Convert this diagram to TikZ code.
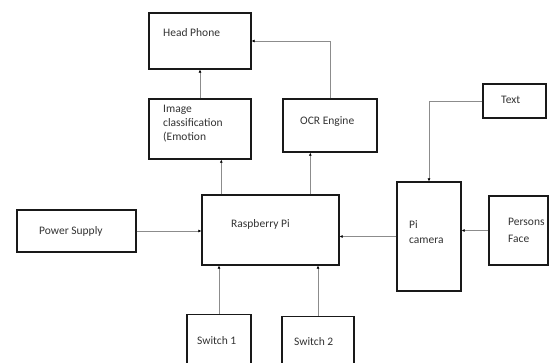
\documentclass[tikz,border=0pt]{standalone}
\usepackage{fontspec}
\setmainfont{Carlito}
\usetikzlibrary{arrows.meta}
\begin{document}
\begin{tikzpicture}[x=1pt,y=-1pt,
  box/.style={draw=black!90,line width=1.4pt,rectangle,inner sep=0pt,fill=white},
  lbl/.style={anchor=base west,inner sep=0pt,text=black!80,font=\fontsize{11.5}{14}\selectfont},
  conn/.style={draw=black!45,line width=0.6pt,-{Latex[length=3pt,width=3pt,fill=black,color=black]}},
  plain/.style={draw=black!45,line width=0.6pt}]
\clip (0,0) rectangle (553,362);
\fill[white] (0,0) rectangle (553,362);
% boxes
\node[box,minimum width=102,minimum height=56] (hp) at (200,41) {};
\node[box,minimum width=102,minimum height=60] (img) at (200,129) {};
\node[box,minimum width=94,minimum height=53] (ocr) at (330,125.5) {};
\node[box,minimum width=137,minimum height=70] (rpi) at (270.5,230) {};
\node[box,minimum width=119,minimum height=42] (ps) at (76.5,231) {};
\node[box,minimum width=64,minimum height=109] (cam) at (429,236.5) {};
\node[box,minimum width=59,minimum height=69] (face) at (518.5,230.5) {};
\node[box,minimum width=63,minimum height=34] (txt) at (514.5,101) {};
\node[box,minimum width=64,minimum height=80,anchor=north] (sw1) at (219,314) {};
\node[box,minimum width=72,minimum height=80,anchor=north] (sw2) at (318,316) {};
% labels
\node[lbl] (hpl) at (163,36) {Head Phone};
\node[lbl] (imgl1) at (163,112) {Image};
\node[lbl] (imgl2) at (163,126) {classification};
\node[lbl] (imgl3) at (163,140) {(Emotion};
\node[lbl] (ocrl) at (300,124) {OCR Engine};
\node[lbl] (rpil) at (231,227) {Raspberry Pi};
\node[lbl] (psl) at (39,234) {Power Supply};
\node[lbl] (caml1) at (409,228) {Pi};
\node[lbl] (caml2) at (409,243) {camera};
\node[lbl] (facel1) at (508,225) {Persons};
\node[lbl] (facel2) at (508,242) {Face};
\node[lbl] (txtl) at (501,103) {Text};
\node[lbl] (sw1l) at (197,344) {Switch 1};
\node[lbl] (sw2l) at (294,345) {Switch 2};
% connectors
\draw[conn] (img.north) -- (hp.south);
\draw[conn] (ocr.north) |- (hp.east);
\draw[conn] ([xshift=20pt]rpi.north west) -- ([xshift=20pt]rpi.north west |- img.south);
\draw[conn] ([xshift=109pt]rpi.north west) -- ([xshift=109pt]rpi.north west |- ocr.south);
\draw[conn] (ps.east) -- (ps.east -| rpi.west);
\draw[conn] (cam.west) -- (cam.west -| rpi.east);
\draw[conn] (face.west) -- (face.west -| cam.east);
\draw[conn] (txt.west) -| (cam.north);
\draw[conn] (sw1.north) -- (sw1.north |- rpi.south);
\draw[conn] (sw2.north) -- (sw2.north |- rpi.south);
\end{tikzpicture}
\end{document}
